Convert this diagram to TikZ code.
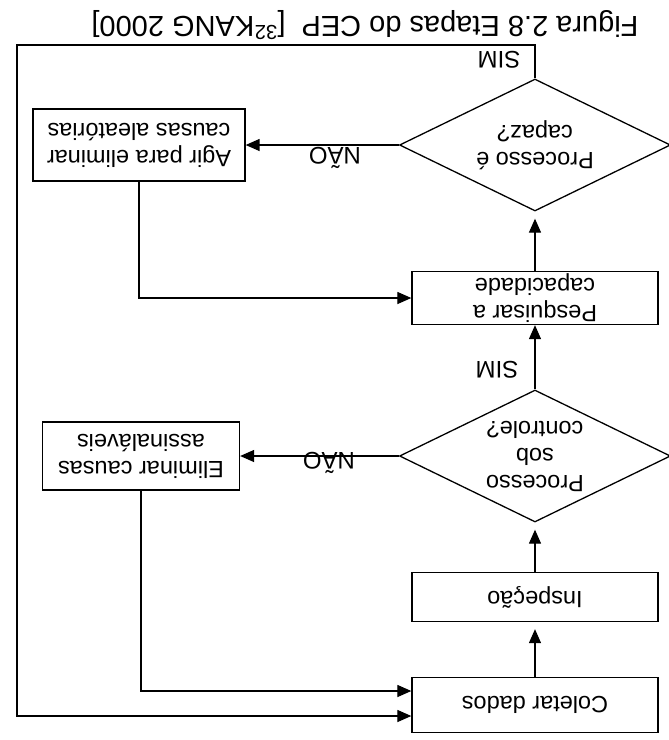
\documentclass[tikz,border=0pt]{standalone}
\usepackage{fontspec}
\setmainfont{Liberation Sans}
\usetikzlibrary{arrows.meta,shapes.geometric}
\tikzset{
  stepbox/.style={rectangle, draw, line width=1.3pt, minimum width=246pt, minimum height=52pt, inner sep=2pt, align=center, font=\fontsize{23.5}{27}\selectfont},
  decision/.style={diamond, draw, line width=1.3pt, aspect=2, inner sep=0pt, minimum width=271pt, minimum height=132pt, align=center, font=\fontsize{23.5}{27}\selectfont},
  answer/.style={inner sep=0pt, font=\fontsize{24}{27}\selectfont},
  fwd/.style={-{Triangle[length=14pt,width=12pt]}, line width=1.3pt},
  gap/.style={shorten >=7pt}, % arrow tip stops short of the shape
}

\begin{document}
\begin{tikzpicture}[x=1pt, y=1pt, rotate=180, transform shape]
  \useasboundingbox[fill=white] (0,0) rectangle (669,740);

  \node[stepbox, minimum height=55pt] (colet) at (134,705) {Coletar dados};
  \node[stepbox, minimum height=49pt] (insp) at (134,597) {Inspeção};
  \node[decision] (ctrl) at (134,456) {Processo\\sob\\controle?};
  \node[stepbox, minimum height=53pt] (pesq) at (134,298) {Pesquisar a\\capacidade};
  \node[decision] (capaz) at (134,145) {Processo é\\capaz?};
  \node[stepbox, minimum width=212pt, minimum height=72pt] (agir) at (530,145) {Agir para eliminar\\causas aleatórias};
  \node[stepbox, minimum width=197pt, minimum height=68pt] (elim) at (528,456) {Eliminar causas\\assinaláveis};

  \node[answer] (simA) at (172,370) {SIM};
  \node[answer] (simB) at (170,60) {SIM};
  \node[answer] (naoA) at (340,463) {NÃO};
  \node[answer] (naoB) at (334,158) {NÃO};

  \node[inner sep=0pt, font=\fontsize{29}{32}\selectfont] (title) at (304,25) {Figura 2.8 Etapas do CEP\ \ [\textsuperscript{32}KANG 2000]};

  \coordinate (loopcorner) at (652,45);

  \draw[fwd, gap] (colet) -- (insp);
  \draw[fwd, gap] (insp) -- (ctrl);
  \draw[fwd] (ctrl) -- (pesq);
  \draw[fwd, gap] (pesq) -- (capaz);
  \draw[fwd] (ctrl) -- (elim);
  \draw[fwd] (capaz) -- (agir);
  \draw[fwd] (agir.north) |- (pesq.east);
  \draw[fwd] (elim.north) |- ([yshift=-14pt]colet.east);
  \draw[fwd] (capaz.south) |- (loopcorner) |- ([yshift=11pt]colet.east);

\end{tikzpicture}
\end{document}
